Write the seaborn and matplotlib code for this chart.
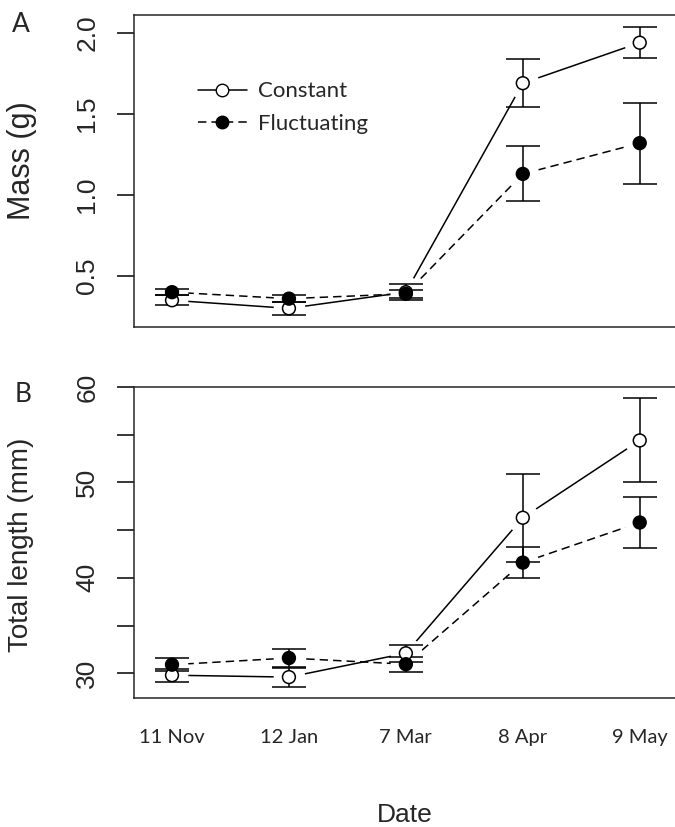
import numpy as np
import pandas as pd
import seaborn as sns
import matplotlib.pyplot as plt
from matplotlib.lines import Line2D

# data
dates = ['11 Nov', '12 Jan', '7 Mar', '8 Apr', '9 May']
treatments = ['Constant', 'Fluctuating']

mass_const = [0.35, 0.30, 0.40, 1.69, 1.94]
mass_const_se = [0.03, 0.04, 0.05, 0.15, 0.095]
mass_fluct = [0.40, 0.36, 0.39, 1.13, 1.32]
mass_fluct_se = [0.02, 0.02, 0.025, 0.17, 0.25]

len_const = [29.8, 29.6, 32.1, 46.3, 54.4]
len_const_se = [0.7, 1.0, 0.9, 4.6, 4.4]
len_fluct = [30.9, 31.6, 30.95, 41.6, 45.8]
len_fluct_se = [0.65, 0.9, 0.8, 1.6, 2.7]

pos = np.arange(len(dates))
df = pd.DataFrame({
    'pos': np.concatenate([pos, pos]),
    'Treatment': np.repeat(treatments, len(dates)),
    'Mass': mass_const + mass_fluct,
    'Mass_se': mass_const_se + mass_fluct_se,
    'Length': len_const + len_fluct,
    'Length_se': len_const_se + len_fluct_se,
})

sns.set_style('ticks')
plt.rcParams['font.family'] = ['Liberation Sans', 'DejaVu Sans']
plt.rcParams['axes.linewidth'] = 1.1

LW = 1.1
dash = (5.5, 3.3)


def draw(ax, col):
    sns.lineplot(data=df, x='pos', y=col, style='Treatment', sort=False,
                 dashes={'Constant': '', 'Fluctuating': dash}, color='black',
                 lw=LW, legend=False, ax=ax, zorder=1)
    # white halo -> gap between line and point (R type="b")
    sns.scatterplot(data=df, x='pos', y=col, color='white', s=520,
                    linewidth=0, legend=False, ax=ax, zorder=2)
    for t in treatments:
        sub = df[df['Treatment'] == t]
        ax.errorbar(sub['pos'], sub[col], yerr=sub[col + '_se'], fmt='none',
                    ecolor='black', elinewidth=LW, capsize=12, capthick=LW,
                    zorder=3)
    sns.scatterplot(data=df, x='pos', y=col, hue='Treatment',
                    palette={'Constant': 'white', 'Fluctuating': 'black'},
                    edgecolor='black', linewidth=LW, s=85, legend=False,
                    ax=ax, zorder=4)
    ax.set_xlim(-0.325, 4.43)
    ax.spines['right'].set_visible(False)
    ax.set_xlabel('')
    ax.set_ylabel('')
    ax.tick_params(axis='y', length=12, width=LW, pad=13, labelsize=19,
                   color='black')
    ax.tick_params(axis='x', length=0)


fig = plt.figure(figsize=(6.75, 8.27), dpi=100)
ax1 = fig.add_axes([134 / 675, 1 - 327 / 827, 556 / 675, 312 / 827])
ax2 = fig.add_axes([134 / 675, 1 - 698 / 827, 556 / 675, 311 / 827])

# A: mass
draw(ax1, 'Mass')
ax1.set_ylim(0.185, 2.111)
ax1.set_yticks([0.5, 1.0, 1.5, 2.0], ['0.5', '1.0', '1.5', '2.0'])
ax1.set_xticks([])

handles = [
    Line2D([], [], color='black', lw=LW, marker='o', mfc='white', mec='black', ms=9),
    Line2D([], [], color='black', lw=LW, dashes=dash, marker='o', mfc='black', mec='black', ms=9),
]
ax1.legend(handles, treatments, loc='upper left', bbox_to_anchor=(0.115, 0.787),
           frameon=False, borderpad=0, borderaxespad=0, handlelength=2.2,
           handletextpad=0.5, labelspacing=0.57,
           prop={'family': 'Lato', 'size': 16})

# B: total length
draw(ax2, 'Length')
ax2.set_ylim(27.41, 60)
ax2.set_yticks([30, 35, 40, 45, 50, 55, 60], ['30', '', '40', '', '50', '', '60'])
ax2.set_xticks(pos, dates)
ax2.tick_params(axis='x', pad=22)
for lab in ax2.get_xticklabels():
    lab.set_fontfamily('Lato')
    lab.set_fontsize(14.5)

for ax in (ax1, ax2):
    plt.setp(ax.get_yticklabels(), rotation=90, va='center')

fig.text(22 / 675, 1 - 161 / 827, 'Mass (g)', rotation=90, ha='center', va='center', fontsize=22)
fig.text(21 / 675, 1 - 545 / 827, 'Total length (mm)', rotation=90, ha='center', va='center', fontsize=20)
fig.text(405 / 675, 1 - 815 / 827, 'Date', ha='center', va='center', fontsize=19)
fig.text(21 / 675, 1 - 25 / 827, 'A', ha='center', va='center', fontsize=19, family='Lato')
fig.text(23 / 675, 1 - 394 / 827, 'B', ha='center', va='center', fontsize=19, family='Lato')

fig.savefig('out.png', dpi=100)
